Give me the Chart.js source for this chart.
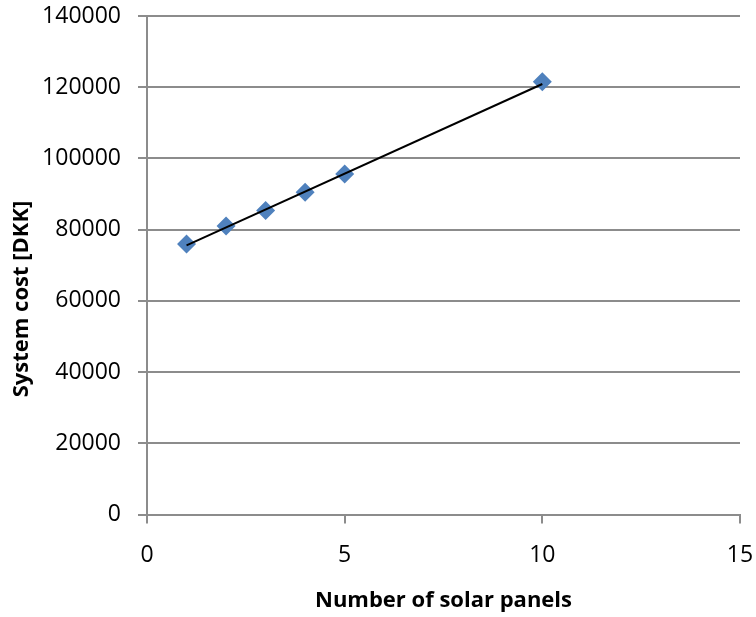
<!DOCTYPE html>
<html lang="en">

<head>
    <meta charset="UTF-8">
    <title>System cost vs number of solar panels</title>
    <script src="https://cdn.jsdelivr.net/npm/chart.js"></script>
    <style>
        html, body {
            margin: 0;
            padding: 0;
            background: #ffffff;
        }

        .chart-container {
            position: relative;
            width: 756px;
            height: 617px;
        }
    </style>
</head>

<body>
    <div class="chart-container">
        <canvas id="costChart"></canvas>
    </div>

    <script>
        // data
        const panels = [1, 2, 3, 4, 5, 10];
        const cost = [76000, 81000, 85400, 90500, 95600, 121500];
        // linear trendline end points
        const trendPanels = [1, 10];
        const trendCost = [75600, 120900];
        const xTicks = [0, 5, 10, 15];
        const yTicks = [0, 20000, 40000, 60000, 80000, 100000, 120000, 140000];

        const fontFamily = "'Open Sans', sans-serif";
        const gridColor = '#8c8c8c';

        // y title sits lower than the middle of the plot, so draw it by hand
        const yTitlePlugin = {
            id: 'yTitle',
            afterDraw(chart) {
                const ctx = chart.ctx;
                ctx.save();
                ctx.translate(22, 299);
                ctx.rotate(-Math.PI / 2);
                ctx.font = 'bold 22px ' + fontFamily;
                ctx.fillStyle = '#000000';
                ctx.textAlign = 'center';
                ctx.textBaseline = 'middle';
                ctx.fillText('System cost [DKK]', 0, 0);
                ctx.restore();
            }
        };

        const costCtx = document.getElementById('costChart').getContext('2d');

        const costChart = new Chart(costCtx, {
            type: 'scatter',
            data: {
                datasets: [{
                    label: 'Trendline',
                    data: trendPanels.map((x, i) => ({ x: x, y: trendCost[i] })),
                    showLine: true,
                    borderColor: '#000000',
                    borderWidth: 2,
                    pointRadius: 0,
                    order: 0
                }, {
                    label: 'System cost',
                    data: panels.map((x, i) => ({ x: x, y: cost[i] })),
                    pointStyle: 'rectRot',
                    pointRadius: 9.5,
                    pointHoverRadius: 9.5,
                    backgroundColor: '#4f81bd',
                    borderColor: '#4f81bd',
                    borderWidth: 0,
                    order: 1
                }]
            },
            options: {
                responsive: true,
                maintainAspectRatio: false,
                animation: false,
                layout: {
                    padding: { top: 16, right: 16, left: 0, bottom: 0 }
                },
                plugins: {
                    legend: {
                        display: false
                    },
                    tooltip: {
                        enabled: false
                    }
                },
                scales: {
                    x: {
                        type: 'linear',
                        min: 0,
                        max: 15,
                        afterBuildTicks: (scale) => {
                            scale.ticks = xTicks.map(v => ({ value: v }));
                        },
                        afterFit: (scale) => {
                            scale.height = 102.5;
                            scale.paddingLeft = 0;
                            scale.paddingRight = 0;
                        },
                        ticks: {
                            color: '#000000',
                            padding: 18,
                            font: { family: fontFamily, size: 23 }
                        },
                        grid: {
                            drawOnChartArea: false,
                            drawTicks: true,
                            tickLength: 9,
                            color: gridColor,
                            lineWidth: 2
                        },
                        border: {
                            color: gridColor,
                            width: 2
                        },
                        title: {
                            display: true,
                            text: 'Number of solar panels',
                            color: '#000000',
                            padding: { top: 10, bottom: 3 },
                            font: { family: fontFamily, size: 22, weight: 'bold' }
                        }
                    },
                    y: {
                        type: 'linear',
                        min: 0,
                        max: 140000,
                        afterBuildTicks: (scale) => {
                            scale.ticks = yTicks.map(v => ({ value: v }));
                        },
                        afterFit: (scale) => {
                            scale.width = 147;
                            // keep the label padding from pushing the plot down
                            scale.paddingTop = 0;
                            scale.paddingBottom = 0;
                        },
                        ticks: {
                            color: '#000000',
                            padding: 17,
                            font: { family: fontFamily, size: 23 },
                            callback: (value) => String(value)
                        },
                        grid: {
                            drawTicks: true,
                            tickLength: 9,
                            color: gridColor,
                            lineWidth: 2
                        },
                        border: {
                            color: gridColor,
                            width: 2
                        }
                    }
                }
            },
            plugins: [yTitlePlugin]
        });
    </script>
</body>

</html>
